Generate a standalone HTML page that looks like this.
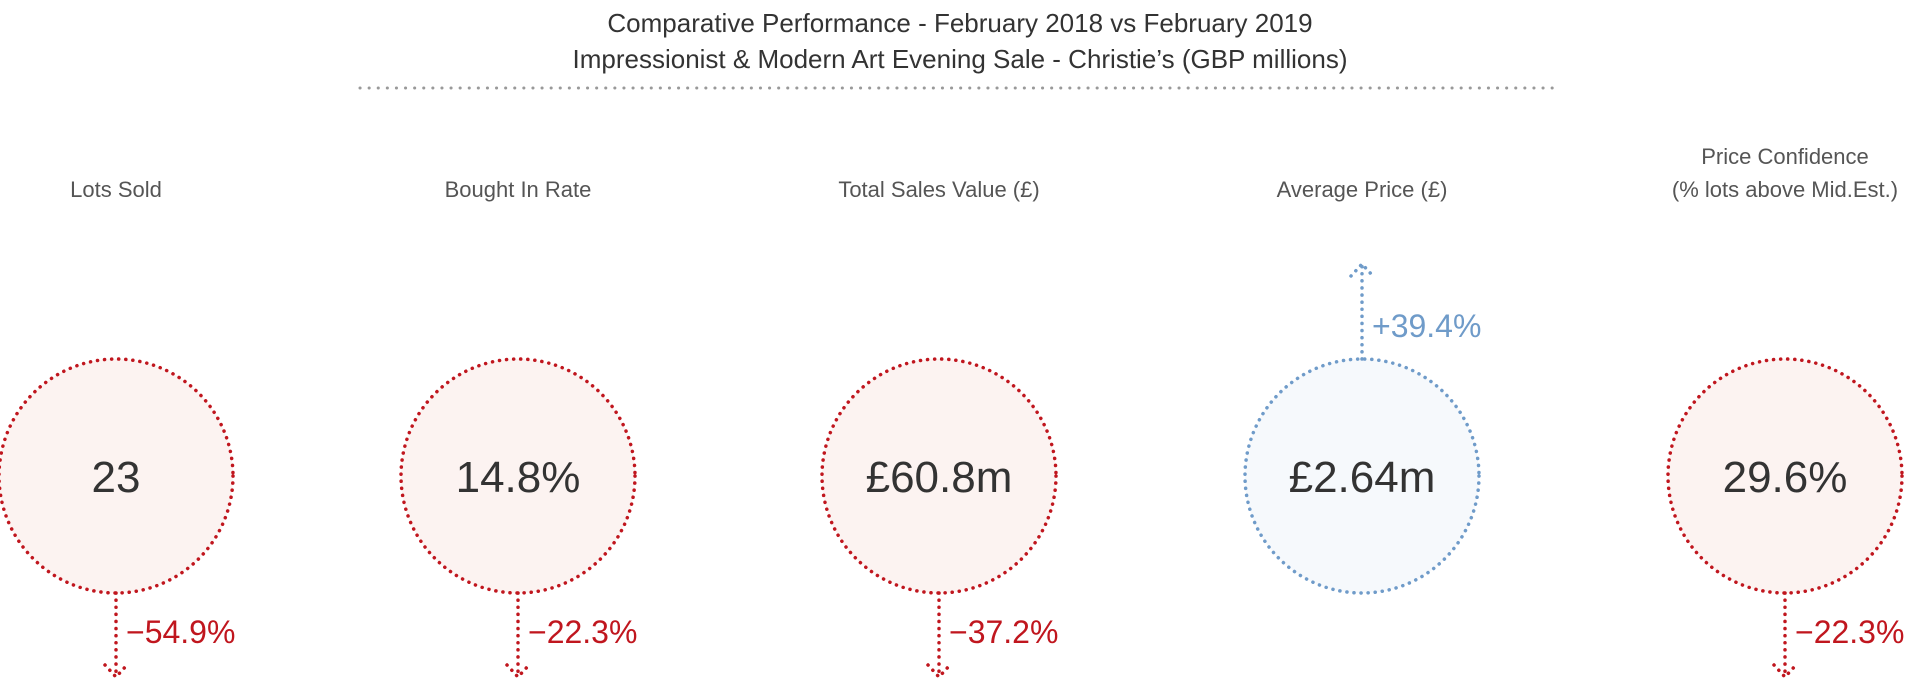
<!DOCTYPE html>
<html><head><meta charset="utf-8"><style>
html,body{margin:0;padding:0;background:#fff;}
svg{display:block;font-family:"Liberation Sans",sans-serif;}
</style></head><body>
<svg id="chart" width="1920" height="683" viewBox="0 0 1920 683">
<text x="960" y="32" text-anchor="middle" font-size="26" fill="#333">Comparative Performance - February 2018 vs February 2019</text>
<text x="960" y="68" text-anchor="middle" font-size="26" fill="#333">Impressionist &amp; Modern Art Evening Sale - Christie’s (GBP millions)</text>
<line x1="360" y1="88" x2="1556" y2="88" stroke="#999" stroke-width="3" stroke-dasharray="0.1 9" stroke-linecap="round"/>
<g id="kpis"></g>
</svg>
<script>
const labels = [["Lots Sold"],["Bought In Rate"],["Total Sales Value (£)"],["Average Price (£)"],["Price Confidence","(% lots above Mid.Est.)"]];
const values = ["23","14.8%","£60.8m","£2.64m","29.6%"];
const changes = [-54.9,-22.3,-37.2,39.4,-22.3];

const ns="http://www.w3.org/2000/svg";
const g=document.getElementById('kpis');
const centers=[116,518,939,1362,1785];
const cy=476, r=117;
function mk(tag,attrs){const e=document.createElementNS(ns,tag);for(const k in attrs)e.setAttribute(k,attrs[k]);return e;}
values.forEach((v,i)=>{
  const cx=centers[i];
  const up=changes[i]>=0;
  const col=up?"#6f9bc9":"#c0161e";
  const fill=up?"#f6f9fc":"#fcf3f1";
  const lab=labels[i];
  lab.forEach((t,j)=>{
    const tx=mk('text',{x:cx,y:197-(lab.length-1-j)*33,'text-anchor':'middle','font-size':22,fill:'#555'});
    
    
    tx.textContent=t;g.appendChild(tx);
  });
  const c=mk('circle',{cx:cx,cy:cy,r:r,fill:fill,stroke:col,'stroke-width':3.5,'stroke-dasharray':'0.1 7','stroke-linecap':'round'});
  
  
  g.appendChild(c);
  const vt=mk('text',{x:cx,y:cy+16,'text-anchor':'middle','font-size':44,fill:'#333'});
  
  
  vt.textContent=v;g.appendChild(vt);
  const len=up?95:84;
  const y0=up?cy-r:cy+r, y1=up?y0-len:y0+len;
  const d=up?-1:1;
  const ar=mk('path',{d:`M${cx},${y0} L${cx},${y1} M${cx-11},${y1-d*12} L${cx},${y1} L${cx+11},${y1-d*12}`,fill:'none',stroke:col,'stroke-width':3.5,'stroke-dasharray':'0.1 7','stroke-linecap':'round'});
  
  
  g.appendChild(ar);
  const ct=mk('text',{x:cx+10,y:up?y0-22:y0+50,'font-size':32,fill:col});
  
  
  ct.textContent=(up?'+':'−')+Math.abs(changes[i]).toFixed(1)+'%';
  g.appendChild(ct);
});
</script>
</body></html>
